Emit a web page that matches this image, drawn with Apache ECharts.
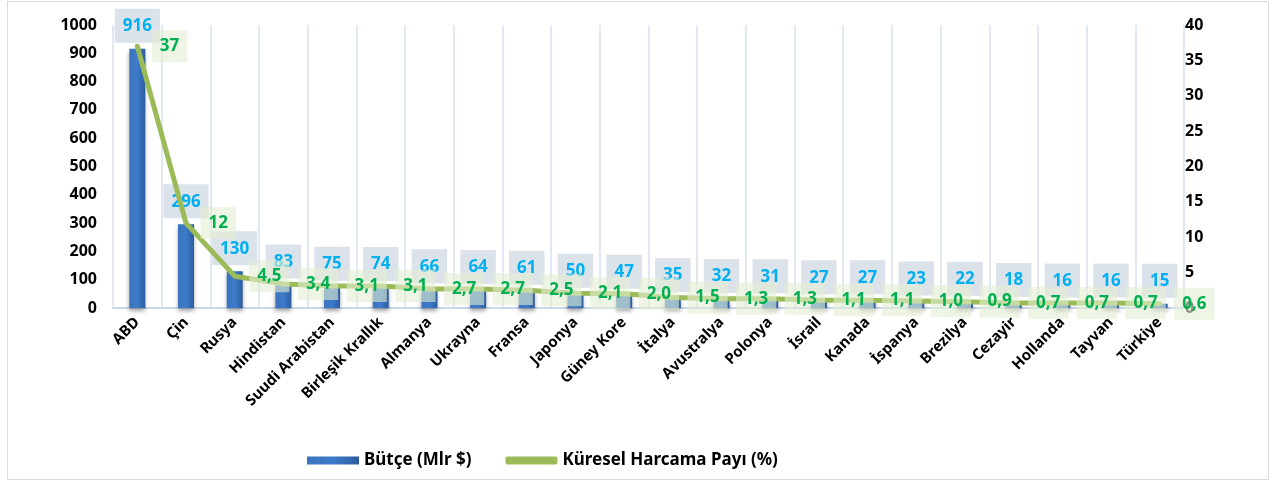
<!DOCTYPE html>
<html>
<head>
<meta charset="utf-8">
<script src="https://cdn.jsdelivr.net/npm/echarts@6/dist/echarts.min.js"></script>
<style>
  html, body { margin: 0; padding: 0; background: #fff; }
  #chart { position: absolute; left: 7px; top: 1px; width: 1262px; height: 479px; border: 1px solid #d9dde3; box-sizing: border-box; }
</style>
</head>
<body>
<div id="chart"></div>
<script>
var countries = ['ABD', 'Çin', 'Rusya', 'Hindistan', 'Suudi Arabistan', 'Birleşik Krallık', 'Almanya', 'Ukrayna', 'Fransa', 'Japonya', 'Güney Kore', 'İtalya', 'Avustralya', 'Polonya', 'İsrail', 'Kanada', 'İspanya', 'Brezilya', 'Cezayir', 'Hollanda', 'Tayvan', 'Türkiye'];
var budget = [916, 296, 130, 83, 75, 74, 66, 64, 61, 50, 47, 35, 32, 31, 27, 27, 23, 22, 18, 16, 16, 15];
var share = [37, 12, 4.5, 3.4, 3.1, 3.1, 2.7, 2.7, 2.5, 2.1, 2.0, 1.5, 1.3, 1.3, 1.1, 1.1, 1.0, 0.9, 0.7, 0.7, 0.7, 0.6];

(function(){
	var chart = echarts.init(document.getElementById('chart'));
	var font = '"Noto Sans", "Open Sans", sans-serif';
	var option = {
		textStyle: { fontFamily: font },
		grid: { left: 105, right: 84, top: 23, bottom: 171 },
		legend: {
			bottom: 5,
			left: 294,
			itemWidth: 52,
			itemHeight: 8,
			itemGap: 34,
			textStyle: { fontFamily: font, fontWeight: 'bold', fontSize: 17, color: '#000' },
			data: [
				{ name: 'Bütçe (Mlr $)', icon: 'rect' },
				{ name: 'Küresel Harcama Payı (%)', icon: 'roundRect', itemStyle: { color: '#9bbb59' } }
			]
		},
		xAxis: {
			type: 'category',
			data: countries,
			axisLine: { lineStyle: { color: '#c9d7ea', width: 2 } },
			axisTick: { show: false },
			splitLine: { show: true, lineStyle: { color: '#d5e0ef', width: 1.5 } },
			axisLabel: { interval: 0, rotate: 45, fontWeight: 'bold', fontSize: 15, color: '#000', margin: 12 }
		},
		yAxis: [
			{
				type: 'value', min: 0, max: 1000, interval: 100,
				splitLine: { show: false },
				axisLine: { show: false }, axisTick: { show: false },
				axisLabel: { fontWeight: 'bold', fontSize: 16, color: '#000', margin: 16, formatter: function (v) { return String(v); } }
			},
			{
				type: 'value', min: 0, max: 40, interval: 5,
				splitLine: { show: false },
				axisLine: { show: false }, axisTick: { show: false },
				axisLabel: { fontWeight: 'bold', fontSize: 16, color: '#000', margin: 1 }
			}
		],
		series: [
			{
				name: 'Bütçe (Mlr $)',
				type: 'bar',
				data: budget,
				barWidth: 16,
				itemStyle: {
					color: new echarts.graphic.LinearGradient(0, 0, 1, 0, [
						{ offset: 0, color: '#3a73bd' },
						{ offset: 0.5, color: '#3d7bca' },
						{ offset: 1, color: '#2c5d9e' }
					]),
					shadowColor: 'rgba(0,0,0,0.35)', shadowBlur: 4, shadowOffsetY: 3
				},
				label: {
					show: true, position: 'top', distance: 6,
					color: '#00b0f0', fontWeight: 'bold', fontSize: 17,
					backgroundColor: 'rgba(216,223,232,0.9)',
					padding: [9, 8, 8, 8]
				}
			},
			{
				name: 'Küresel Harcama Payı (%)',
				type: 'line',
				yAxisIndex: 1,
				data: share,
				symbol: 'circle',
				symbolSize: 1,
				showSymbol: true,
				lineStyle: { color: '#9bbb59', width: 5, cap: 'round', join: 'round' },
				itemStyle: { color: 'rgba(155,187,89,0)' },
				z: 5,
				labelLayout: { hideOverlap: false },
				label: {
					show: true, position: 'right', distance: 14,
					color: '#00b050', fontWeight: 'bold', fontSize: 17,
					backgroundColor: 'rgba(226,238,210,0.6)',
					padding: [8, 8, 7, 8],
					formatter: function (p) { return String(p.value.toFixed(p.value >= 10 ? 0 : 1)).replace('.', ','); }
				}
			}
		]
	};
	chart.setOption(option);
})();
</script>
</body>
</html>
